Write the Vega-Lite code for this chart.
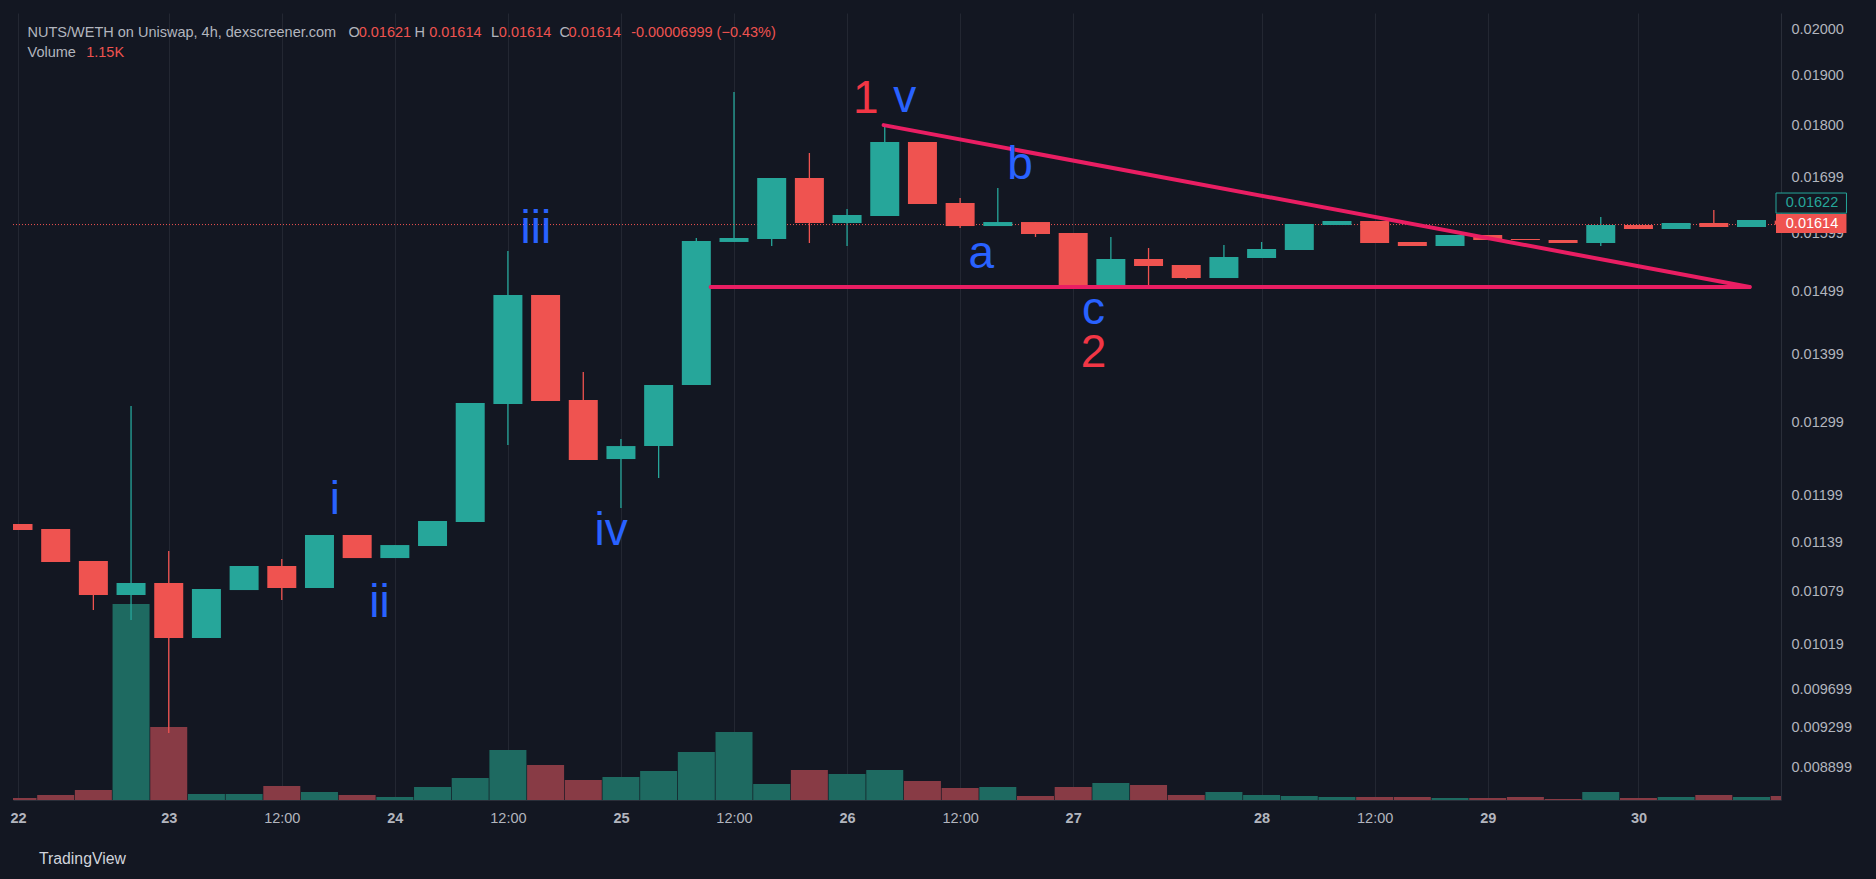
{
  "$schema": "https://vega.github.io/schema/vega-lite/v6.json",
  "width": 1768,
  "height": 787,
  "autosize": {"type": "none"},
  "padding": {"left": 13, "top": 13, "right": 95, "bottom": 79},
  "background": "#131722",
  "config": {
    "view": {"stroke": null},
    "font": "Liberation Sans",
    "axis": {"ticks": false, "domain": true, "domainColor": "#2a2e39", "grid": true, "gridColor": "#232732", "labelColor": "#b2b5be", "labelFontSize": 14.5, "labelFont": "Liberation Sans", "labelFlush": false, "labelOverlap": false, "labelBound": false, "title": null}
  },
  "title": {"text": "TradingView", "orient": "bottom", "anchor": "start", "dx": 29, "offset": 27, "baseline": "top", "color": "#d1d4dc", "fontSize": 15.8, "fontWeight": "normal", "font": "Liberation Sans"},
  "datasets": {
    "bars": [
      {"i": 0, "o": 0.011623, "h": 0.011623, "l": 0.011547, "c": 0.011547, "v": 575},
      {"i": 1, "o": 0.011559, "h": 0.011559, "l": 0.011149, "c": 0.011149, "v": 1440},
      {"i": 2, "o": 0.011161, "h": 0.011161, "l": 0.010577, "c": 0.010752, "v": 2875},
      {"i": 3, "o": 0.010752, "h": 0.013228, "l": 0.010462, "c": 0.010895, "v": 56350},
      {"i": 4, "o": 0.010895, "h": 0.011284, "l": 0.009243, "c": 0.010257, "v": 20990},
      {"i": 5, "o": 0.010257, "h": 0.010823, "l": 0.010257, "c": 0.010823, "v": 1725},
      {"i": 6, "o": 0.010811, "h": 0.0111, "l": 0.010811, "c": 0.0111, "v": 1725},
      {"i": 7, "o": 0.0111, "h": 0.011185, "l": 0.010694, "c": 0.010835, "v": 4025},
      {"i": 8, "o": 0.010835, "h": 0.011484, "l": 0.010835, "c": 0.011484, "v": 2300},
      {"i": 9, "o": 0.011484, "h": 0.011484, "l": 0.011197, "c": 0.011197, "v": 1440},
      {"i": 10, "o": 0.011197, "h": 0.011358, "l": 0.011197, "c": 0.011358, "v": 860},
      {"i": 11, "o": 0.011346, "h": 0.011661, "l": 0.011346, "c": 0.011661, "v": 3740},
      {"i": 12, "o": 0.011648, "h": 0.013271, "l": 0.011648, "c": 0.013271, "v": 6325},
      {"i": 13, "o": 0.013257, "h": 0.015679, "l": 0.012674, "c": 0.01494, "v": 14375},
      {"i": 14, "o": 0.01494, "h": 0.01494, "l": 0.013301, "c": 0.013301, "v": 10060},
      {"i": 15, "o": 0.013315, "h": 0.01373, "l": 0.012467, "c": 0.012467, "v": 5750},
      {"i": 16, "o": 0.012481, "h": 0.012758, "l": 0.011829, "c": 0.01266, "v": 6610},
      {"i": 17, "o": 0.01266, "h": 0.013536, "l": 0.012224, "c": 0.013536, "v": 8340},
      {"i": 18, "o": 0.013536, "h": 0.015904, "l": 0.013536, "c": 0.015852, "v": 13800},
      {"i": 19, "o": 0.015835, "h": 0.018665, "l": 0.015835, "c": 0.015904, "v": 19550},
      {"i": 20, "o": 0.015887, "h": 0.016985, "l": 0.015765, "c": 0.016985, "v": 4600},
      {"i": 21, "o": 0.016985, "h": 0.017458, "l": 0.015817, "c": 0.016168, "v": 8625},
      {"i": 22, "o": 0.016168, "h": 0.016418, "l": 0.015765, "c": 0.01631, "v": 7475},
      {"i": 23, "o": 0.016292, "h": 0.017982, "l": 0.016292, "c": 0.017669, "v": 8625},
      {"i": 24, "o": 0.017669, "h": 0.017669, "l": 0.016508, "c": 0.016508, "v": 5460},
      {"i": 25, "o": 0.016526, "h": 0.016617, "l": 0.016079, "c": 0.016114, "v": 3450},
      {"i": 26, "o": 0.016114, "h": 0.0168, "l": 0.016114, "c": 0.016185, "v": 3740},
      {"i": 27, "o": 0.016185, "h": 0.016185, "l": 0.015922, "c": 0.015974, "v": 1150},
      {"i": 28, "o": 0.015992, "h": 0.015992, "l": 0.015105, "c": 0.015105, "v": 3740},
      {"i": 29, "o": 0.015105, "h": 0.015922, "l": 0.015105, "c": 0.015542, "v": 4890},
      {"i": 30, "o": 0.015542, "h": 0.015731, "l": 0.015072, "c": 0.015423, "v": 4310},
      {"i": 31, "o": 0.01544, "h": 0.01544, "l": 0.015205, "c": 0.015221, "v": 1440},
      {"i": 32, "o": 0.015221, "h": 0.015783, "l": 0.015221, "c": 0.015576, "v": 2300},
      {"i": 33, "o": 0.015559, "h": 0.015835, "l": 0.015559, "c": 0.015713, "v": 1440},
      {"i": 34, "o": 0.015696, "h": 0.01615, "l": 0.015696, "c": 0.01615, "v": 1150},
      {"i": 35, "o": 0.016132, "h": 0.016203, "l": 0.016132, "c": 0.016203, "v": 860},
      {"i": 36, "o": 0.016203, "h": 0.016203, "l": 0.015817, "c": 0.015817, "v": 860},
      {"i": 37, "o": 0.015835, "h": 0.015835, "l": 0.015765, "c": 0.015765, "v": 860},
      {"i": 38, "o": 0.015765, "h": 0.015957, "l": 0.015765, "c": 0.015957, "v": 575},
      {"i": 39, "o": 0.015957, "h": 0.015957, "l": 0.015869, "c": 0.015869, "v": 575},
      {"i": 40, "o": 0.015887, "h": 0.015887, "l": 0.015869, "c": 0.015869, "v": 860},
      {"i": 41, "o": 0.015869, "h": 0.015869, "l": 0.015817, "c": 0.015817, "v": 290},
      {"i": 42, "o": 0.015817, "h": 0.016274, "l": 0.015765, "c": 0.016132, "v": 2300},
      {"i": 43, "o": 0.016132, "h": 0.016132, "l": 0.016062, "c": 0.016062, "v": 575},
      {"i": 44, "o": 0.016062, "h": 0.016168, "l": 0.016062, "c": 0.016168, "v": 860},
      {"i": 45, "o": 0.016168, "h": 0.0164, "l": 0.016097, "c": 0.016097, "v": 1440},
      {"i": 46, "o": 0.016097, "h": 0.016221, "l": 0.016097, "c": 0.016221, "v": 860},
      {"i": 47, "o": 0.01621, "h": 0.01621, "l": 0.01614, "c": 0.01614, "v": 1150}
    ],
    "waves": [
      {"t": "i", "i": 8.41, "p": 0.011752, "deg": "minor"},
      {"t": "ii", "i": 9.59, "p": 0.010497, "deg": "minor"},
      {"t": "iii", "i": 13.74, "p": 0.015818, "deg": "minor"},
      {"t": "iv", "i": 15.74, "p": 0.011358, "deg": "minor"},
      {"t": "v", "i": 23.53, "p": 0.01826, "deg": "minor"},
      {"t": "1", "i": 22.5, "p": 0.01824, "deg": "major"},
      {"t": "a", "i": 25.56, "p": 0.015388, "deg": "minor"},
      {"t": "b", "i": 26.59, "p": 0.016967, "deg": "minor"},
      {"t": "c", "i": 28.54, "p": 0.014472, "deg": "minor"},
      {"t": "2", "i": 28.54, "p": 0.013806, "deg": "major"}
    ],
    "lines": [
      {"seg": "upper", "i": 22.97, "p": 0.018},
      {"seg": "upper", "i": 45.95, "p": 0.015072},
      {"seg": "lower", "i": 18.38, "p": 0.015072},
      {"seg": "lower", "i": 45.95, "p": 0.015072}
    ]
  },
  "layer": [
    {
      "data": {"name": "bars"},
      "mark": {"type": "bar", "size": 37, "clip": true, "orient": "vertical"},
      "encoding": {
        "x": {"field": "i", "type": "quantitative", "title": null, "scale": {"domain": [0, 46.65], "nice": false, "zero": false},
          "axis": {"orient": "bottom", "values": [0, 4, 7, 10, 13, 16, 19, 22, 25, 28, 33, 36, 39, 43], "labelPadding": 11,
            "labelFontWeight": {"condition": {"test": "indexof([0,4,10,16,22,28,33,39,43], datum.value) >= 0", "value": "bold"}, "value": "normal"},
            "labelExpr": "datum.value == 0 ? '22' : datum.value == 4 ? '23' : datum.value == 10 ? '24' : datum.value == 16 ? '25' : datum.value == 22 ? '26' : datum.value == 28 ? '27' : datum.value == 33 ? '28' : datum.value == 39 ? '29' : datum.value == 43 ? '30' : '12:00'"}},
        "y": {"field": "v", "type": "quantitative", "title": null, "scale": {"domain": [0, 226262], "nice": false}, "axis": null, "stack": null},
        "color": {"condition": {"test": "datum.c >= datum.o", "value": "#1e6a61"}, "value": "#883b45"}
      }
    },
    {
      "layer": [
        {
          "data": {"name": "bars"},
          "mark": {"type": "rule", "strokeWidth": 1.3, "clip": true},
          "encoding": {
            "x": {"field": "i", "type": "quantitative", "title": null, "scale": {"domain": [0, 46.65], "nice": false, "zero": false}},
            "y": {"field": "l", "type": "quantitative", "title": null, "scale": {"type": "log", "domain": [0.008588, 0.020354], "nice": false},
              "axis": {"orient": "right", "labelPadding": 10,
                "values": [0.02, 0.019, 0.018, 0.01699, 0.01599, 0.01499, 0.01399, 0.01299, 0.01199, 0.01139, 0.01079, 0.01019, 0.009699, 0.009299, 0.008899],
                "labelExpr": "datum.value >= 0.01 ? format(datum.value, '.5f') : format(datum.value, '.6f')"}},
            "y2": {"field": "h"},
            "color": {"condition": {"test": "datum.c >= datum.o", "value": "#26a69a"}, "value": "#ef5350"}
          }
        },
        {
          "data": {"values": [{}]},
          "mark": {"type": "rule", "color": "#ef5350", "strokeDash": [1, 2], "strokeWidth": 1},
          "encoding": {
            "y": {"datum": 0.01614, "type": "quantitative", "title": null, "scale": {"type": "log", "domain": [0.008588, 0.020354], "nice": false}}
          }
        },
        {
          "data": {"name": "bars"},
          "mark": {"type": "bar", "size": 29, "clip": true, "orient": "vertical"},
          "encoding": {
            "x": {"field": "i", "type": "quantitative", "title": null, "scale": {"domain": [0, 46.65], "nice": false, "zero": false}},
            "y": {"field": "o", "type": "quantitative", "title": null, "scale": {"type": "log", "domain": [0.008588, 0.020354], "nice": false}},
            "y2": {"field": "c"},
            "color": {"condition": {"test": "datum.c >= datum.o", "value": "#26a69a"}, "value": "#ef5350"}
          }
        },
        {
          "data": {"name": "lines"},
          "mark": {"type": "line", "color": "#e91e63", "strokeWidth": 4, "strokeCap": "round", "clip": true},
          "encoding": {
            "x": {"field": "i", "type": "quantitative", "title": null, "scale": {"domain": [0, 46.65], "nice": false, "zero": false}},
            "y": {"field": "p", "type": "quantitative", "title": null, "scale": {"type": "log", "domain": [0.008588, 0.020354], "nice": false}},
            "detail": {"field": "seg"}
          }
        },
        {
          "data": {"name": "waves"},
          "mark": {"type": "text", "fontSize": 46, "font": "Liberation Sans", "align": "center", "baseline": "alphabetic"},
          "encoding": {
            "x": {"field": "i", "type": "quantitative", "title": null, "scale": {"domain": [0, 46.65], "nice": false, "zero": false}},
            "y": {"field": "p", "type": "quantitative", "title": null, "scale": {"type": "log", "domain": [0.008588, 0.020354], "nice": false}},
            "text": {"field": "t"},
            "color": {"condition": {"test": "datum.deg == 'major'", "value": "#f23645"}, "value": "#2962ff"}
          }
        },
        {
          "data": {"values": [{}]},
          "mark": {"type": "rect", "fill": "#131722", "stroke": "#26a69a", "strokeWidth": 1},
          "encoding": {
            "x": {"datum": 46.65, "type": "quantitative", "title": null, "scale": {"domain": [0, 46.65], "nice": false, "zero": false}},
            "x2": {"datum": 48.52},
            "y": {"datum": 0.016708, "type": "quantitative", "title": null, "scale": {"type": "log", "domain": [0.008588, 0.020354], "nice": false}},
            "y2": {"datum": 0.016343}
          }
        },
        {
          "data": {"values": [{}]},
          "mark": {"type": "text", "text": "0.01622", "color": "#26a69a", "fontSize": 14.5, "align": "left", "baseline": "middle"},
          "encoding": {
            "x": {"datum": 46.91, "type": "quantitative", "title": null, "scale": {"domain": [0, 46.65], "nice": false, "zero": false}},
            "y": {"datum": 0.016527, "type": "quantitative", "title": null, "scale": {"type": "log", "domain": [0.008588, 0.020354], "nice": false}}
          }
        },
        {
          "data": {"values": [{}]},
          "mark": {"type": "rect", "fill": "#ef5350"},
          "encoding": {
            "x": {"datum": 46.65, "type": "quantitative", "title": null, "scale": {"domain": [0, 46.65], "nice": false, "zero": false}},
            "x2": {"datum": 48.52},
            "y": {"datum": 0.016328, "type": "quantitative", "title": null, "scale": {"type": "log", "domain": [0.008588, 0.020354], "nice": false}},
            "y2": {"datum": 0.015992}
          }
        },
        {
          "data": {"values": [{}]},
          "mark": {"type": "text", "text": "0.01614", "color": "#ffffff", "fontSize": 14.5, "align": "left", "baseline": "middle"},
          "encoding": {
            "x": {"datum": 46.91, "type": "quantitative", "title": null, "scale": {"domain": [0, 46.65], "nice": false, "zero": false}},
            "y": {"datum": 0.01615, "type": "quantitative", "title": null, "scale": {"type": "log", "domain": [0.008588, 0.020354], "nice": false}}
          }
        },
        {"data": {"values": [{}]}, "mark": {"type": "text", "text": "NUTS/WETH on Uniswap, 4h, dexscreener.com", "color": "#b2b5be", "fontSize": 14.5, "align": "left", "baseline": "middle"},
          "encoding": {"x": {"datum": 0.253, "type": "quantitative", "title": null, "scale": {"domain": [0, 46.65], "nice": false, "zero": false}},
            "y": {"datum": 0.019912, "type": "quantitative", "title": null, "scale": {"type": "log", "domain": [0.008588, 0.020354], "nice": false}}}},
        {"data": {"values": [{}]}, "mark": {"type": "text", "text": "O", "color": "#b2b5be", "fontSize": 14.5, "align": "left", "baseline": "middle"},
          "encoding": {"x": {"datum": 8.77, "type": "quantitative", "title": null, "scale": {"domain": [0, 46.65], "nice": false, "zero": false}},
            "y": {"datum": 0.019912, "type": "quantitative", "title": null, "scale": {"type": "log", "domain": [0.008588, 0.020354], "nice": false}}}},
        {"data": {"values": [{}]}, "mark": {"type": "text", "text": "0.01621", "color": "#ef5350", "fontSize": 14.5, "align": "left", "baseline": "middle"},
          "encoding": {"x": {"datum": 9.04, "type": "quantitative", "title": null, "scale": {"domain": [0, 46.65], "nice": false, "zero": false}},
            "y": {"datum": 0.019912, "type": "quantitative", "title": null, "scale": {"type": "log", "domain": [0.008588, 0.020354], "nice": false}}}},
        {"data": {"values": [{}]}, "mark": {"type": "text", "text": "H", "color": "#b2b5be", "fontSize": 14.5, "align": "left", "baseline": "middle"},
          "encoding": {"x": {"datum": 10.52, "type": "quantitative", "title": null, "scale": {"domain": [0, 46.65], "nice": false, "zero": false}},
            "y": {"datum": 0.019912, "type": "quantitative", "title": null, "scale": {"type": "log", "domain": [0.008588, 0.020354], "nice": false}}}},
        {"data": {"values": [{}]}, "mark": {"type": "text", "text": "0.01614", "color": "#ef5350", "fontSize": 14.5, "align": "left", "baseline": "middle"},
          "encoding": {"x": {"datum": 10.91, "type": "quantitative", "title": null, "scale": {"domain": [0, 46.65], "nice": false, "zero": false}},
            "y": {"datum": 0.019912, "type": "quantitative", "title": null, "scale": {"type": "log", "domain": [0.008588, 0.020354], "nice": false}}}},
        {"data": {"values": [{}]}, "mark": {"type": "text", "text": "L", "color": "#b2b5be", "fontSize": 14.5, "align": "left", "baseline": "middle"},
          "encoding": {"x": {"datum": 12.55, "type": "quantitative", "title": null, "scale": {"domain": [0, 46.65], "nice": false, "zero": false}},
            "y": {"datum": 0.019912, "type": "quantitative", "title": null, "scale": {"type": "log", "domain": [0.008588, 0.020354], "nice": false}}}},
        {"data": {"values": [{}]}, "mark": {"type": "text", "text": "0.01614", "color": "#ef5350", "fontSize": 14.5, "align": "left", "baseline": "middle"},
          "encoding": {"x": {"datum": 12.76, "type": "quantitative", "title": null, "scale": {"domain": [0, 46.65], "nice": false, "zero": false}},
            "y": {"datum": 0.019912, "type": "quantitative", "title": null, "scale": {"type": "log", "domain": [0.008588, 0.020354], "nice": false}}}},
        {"data": {"values": [{}]}, "mark": {"type": "text", "text": "C", "color": "#b2b5be", "fontSize": 14.5, "align": "left", "baseline": "middle"},
          "encoding": {"x": {"datum": 14.37, "type": "quantitative", "title": null, "scale": {"domain": [0, 46.65], "nice": false, "zero": false}},
            "y": {"datum": 0.019912, "type": "quantitative", "title": null, "scale": {"type": "log", "domain": [0.008588, 0.020354], "nice": false}}}},
        {"data": {"values": [{}]}, "mark": {"type": "text", "text": "0.01614", "color": "#ef5350", "fontSize": 14.5, "align": "left", "baseline": "middle"},
          "encoding": {"x": {"datum": 14.61, "type": "quantitative", "title": null, "scale": {"domain": [0, 46.65], "nice": false, "zero": false}},
            "y": {"datum": 0.019912, "type": "quantitative", "title": null, "scale": {"type": "log", "domain": [0.008588, 0.020354], "nice": false}}}},
        {"data": {"values": [{}]}, "mark": {"type": "text", "text": "-0.00006999 (−0.43%)", "color": "#ef5350", "fontSize": 14.5, "align": "left", "baseline": "middle"},
          "encoding": {"x": {"datum": 16.27, "type": "quantitative", "title": null, "scale": {"domain": [0, 46.65], "nice": false, "zero": false}},
            "y": {"datum": 0.019912, "type": "quantitative", "title": null, "scale": {"type": "log", "domain": [0.008588, 0.020354], "nice": false}}}},
        {"data": {"values": [{}]}, "mark": {"type": "text", "text": "Volume", "color": "#b2b5be", "fontSize": 14.5, "align": "left", "baseline": "middle"},
          "encoding": {"x": {"datum": 0.253, "type": "quantitative", "title": null, "scale": {"domain": [0, 46.65], "nice": false, "zero": false}},
            "y": {"datum": 0.019481, "type": "quantitative", "title": null, "scale": {"type": "log", "domain": [0.008588, 0.020354], "nice": false}}}},
        {"data": {"values": [{}]}, "mark": {"type": "text", "text": "1.15K", "color": "#ef5350", "fontSize": 14.5, "align": "left", "baseline": "middle"},
          "encoding": {"x": {"datum": 1.81, "type": "quantitative", "title": null, "scale": {"domain": [0, 46.65], "nice": false, "zero": false}},
            "y": {"datum": 0.019481, "type": "quantitative", "title": null, "scale": {"type": "log", "domain": [0.008588, 0.020354], "nice": false}}}}
      ]
    }
  ],
  "resolve": {"scale": {"y": "independent"}}
}
